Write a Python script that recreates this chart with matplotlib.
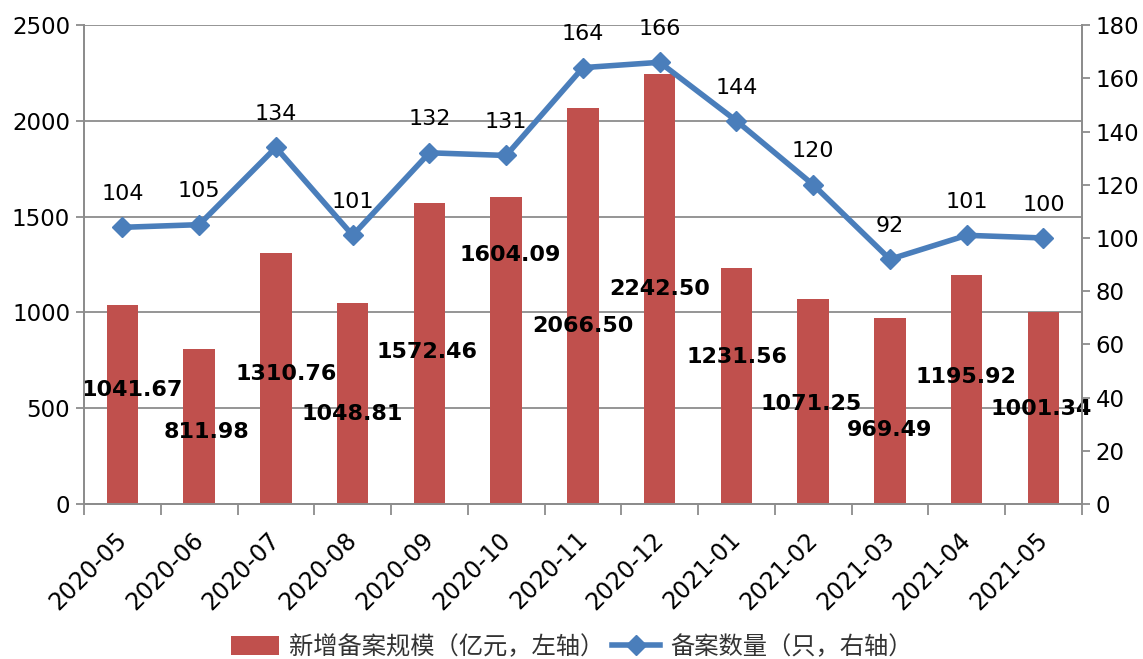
import matplotlib
matplotlib.use("Agg")
import matplotlib.pyplot as plt
import matplotlib.transforms as mtransforms
from matplotlib.lines import Line2D
from matplotlib.patches import Patch
import numpy as np

months = ["2020-05", "2020-06", "2020-07", "2020-08", "2020-09", "2020-10", "2020-11",
          "2020-12", "2021-01", "2021-02", "2021-03", "2021-04", "2021-05"]
scale = [1041.67, 811.98, 1310.76, 1048.81, 1572.46, 1604.09, 2066.50,
         2242.50, 1231.56, 1071.25, 969.49, 1195.92, 1001.34]
count = [104, 105, 134, 101, 132, 131, 164, 166, 144, 120, 92, 101, 100]

# where the bar value labels sit (left-axis units / category offset), as in the source chart
label_y = [595, 376, 678, 470, 793, 1300, 929, 1122, 767, 522, 386, 663, 496]
label_dx = [0.13, 0.09, 0.13, 0.0, -0.03, 0.05, 0.0, 0.0, 0.01, -0.03, -0.01, -0.01, -0.03]

bar_color = "#c0504d"
line_color = "#4a7ebb"
grid_color = "#8c8c8c"

plt.rcParams["font.family"] = ["DejaVu Sans", "Noto Sans CJK SC"]

fig = plt.figure(figsize=(11.43, 6.59), dpi=100)
ax = fig.add_axes([0.0735, 0.235, 0.873, 0.727])
ax2 = ax.twinx()

x = np.arange(len(months))
ax.bar(x, scale, width=0.41, color=bar_color, zorder=2)
for xi, v, ly, dx in zip(x, scale, label_y, label_dx):
    ax.text(xi + dx, ly, f"{v:.2f}", ha="center", va="center", fontsize=16,
            fontweight="bold", color="black", zorder=5)

ax.set_ylim(0, 2500)
ax.set_yticks(np.arange(0, 2501, 500))
ax.set_xlim(-0.5, len(months) - 0.5)
ax.yaxis.grid(True, color=grid_color, linewidth=1.3, zorder=0)
ax.set_axisbelow(True)

ax.set_xticks(x)
ax.set_xticklabels(months, rotation=45, ha="right", rotation_mode="anchor", fontsize=17)
ax.tick_params(axis="x", which="major", length=0, pad=14)
shift = mtransforms.ScaledTranslation(-8 / 100, -4 / 100, fig.dpi_scale_trans)
for lab in ax.get_xticklabels():
    lab.set_transform(lab.get_transform() + shift)
ax.set_xticks(np.arange(-0.5, len(months), 1.0), minor=True)
ax.tick_params(axis="x", which="minor", length=8, width=1.3, color=grid_color)
ax.tick_params(axis="y", labelsize=16.5, length=6, width=1.3, color=grid_color, pad=4)

ax2.plot(x, count, color=line_color, linewidth=4, marker="D", markersize=10, zorder=4)
for xi, v in zip(x, count):
    ax2.annotate(str(v), (xi, v), xytext=(0, 24), textcoords="offset points",
                 ha="center", va="center", fontsize=16)
ax2.set_ylim(0, 180)
ax2.set_yticks(np.arange(0, 181, 20))
ax2.tick_params(axis="y", labelsize=16.5, length=6, width=1.3, color=grid_color, pad=4)

for a in (ax, ax2):
    for side in ("left", "right", "bottom"):
        a.spines[side].set_color(grid_color)
        a.spines[side].set_linewidth(1.3)
    a.spines["top"].set_visible(False)

handles = [
    Patch(facecolor=bar_color, label="新增备案规模（亿元，左轴）"),
    Line2D([0], [0], color=line_color, linewidth=4, marker="D", markersize=10,
           label="备案数量（只，右轴）"),
]
leg = fig.legend(handles=handles, loc="lower center", bbox_to_anchor=(0.5, -0.035), ncol=2,
                 frameon=False, handlelength=2.0, handleheight=0.8, columnspacing=0.3,
                 handletextpad=0.4,
                 prop={"family": ["Noto Sans CJK SC", "DejaVu Sans"], "size": 17.5})
for t in leg.get_texts():
    t.set_color("#333333")

fig.savefig("out.png", dpi=100)
